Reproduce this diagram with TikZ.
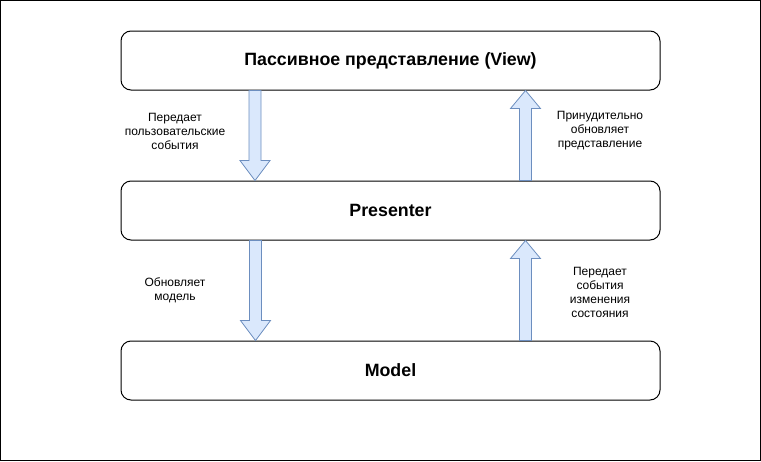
\documentclass[tikz,border=0pt]{standalone}
\usepackage{fontspec}
\setmainfont{Liberation Sans}
\usetikzlibrary{calc}
\definecolor{afill}{HTML}{DAE8FC}
\definecolor{adraw}{HTML}{6C8EBF}
\begin{document}
\begin{tikzpicture}[x=1pt,y=-1pt,
  box/.style={draw, line width=1pt, rounded corners=10pt, minimum width=539pt, minimum height=59pt, inner sep=0pt, font=\bfseries\fontsize{17.8}{20}\selectfont},
  lbl/.style={align=center, inner sep=0pt, font=\fontsize{12}{14}\selectfont},
  barrow/.style={draw=adraw, fill=afill, line width=0.8pt, line join=miter}]
\useasboundingbox (0,0) rectangle (761,461);
\draw[line width=1pt] (0.5,0.5) rectangle (760.5,460.5);
\node[box] (view) at (390.5,60.5) {Пассивное представление (View)};
\node[box] (pres) at (390.5,210.5) {Presenter};
\node[box] (model) at (390.5,370.5) {Model};
% arrow anchor points
\coordinate (d1) at ([xshift=-135.5pt]view.south);
\coordinate (d2) at ([xshift=-135pt]pres.south);
\coordinate (u1) at ([xshift=135pt]pres.north);
\coordinate (u2) at ([xshift=135pt]model.north);
% down arrows
\draw[barrow] let \p1=(d1), \p2=(d1 |- pres.north) in
  ({\x1-6pt},\y1) -- ({\x1+6pt},\y1) -- ({\x1+6pt},{\y2+20pt}) -- ({\x1+15pt},{\y2+20pt})
  -- (\x1,\y2) -- ({\x1-15pt},{\y2+20pt}) -- ({\x1-6pt},{\y2+20pt}) -- cycle;
\draw[barrow] let \p1=(d2), \p2=(d2 |- model.north) in
  ({\x1-6pt},\y1) -- ({\x1+6pt},\y1) -- ({\x1+6pt},{\y2+20pt}) -- ({\x1+15pt},{\y2+20pt})
  -- (\x1,\y2) -- ({\x1-15pt},{\y2+20pt}) -- ({\x1-6pt},{\y2+20pt}) -- cycle;
% up arrows
\draw[barrow] let \p1=(u1), \p2=(u1 |- view.south) in
  ({\x1-6pt},\y1) -- ({\x1+6pt},\y1) -- ({\x1+6pt},{\y2-18pt}) -- ({\x1+15pt},{\y2-18pt})
  -- (\x1,\y2) -- ({\x1-15pt},{\y2-18pt}) -- ({\x1-6pt},{\y2-18pt}) -- cycle;
\draw[barrow] let \p1=(u2), \p2=(u2 |- pres.south) in
  ({\x1-6pt},\y1) -- ({\x1+6pt},\y1) -- ({\x1+6pt},{\y2-18pt}) -- ({\x1+15pt},{\y2-18pt})
  -- (\x1,\y2) -- ({\x1-15pt},{\y2-18pt}) -- ({\x1-6pt},{\y2-18pt}) -- cycle;
% labels
\node[lbl] (l1) at (175,131) {Передает\\пользовательские\\события};
\node[lbl] (l2) at (600,131) {Принудительно\\обновляет\\представление};
\node[lbl] (l3) at (175,290) {Обновляет\\модель};
\node[lbl] (l4) at (600,292) {Передает\\события\\изменения\\состояния};
\end{tikzpicture}
\end{document}
